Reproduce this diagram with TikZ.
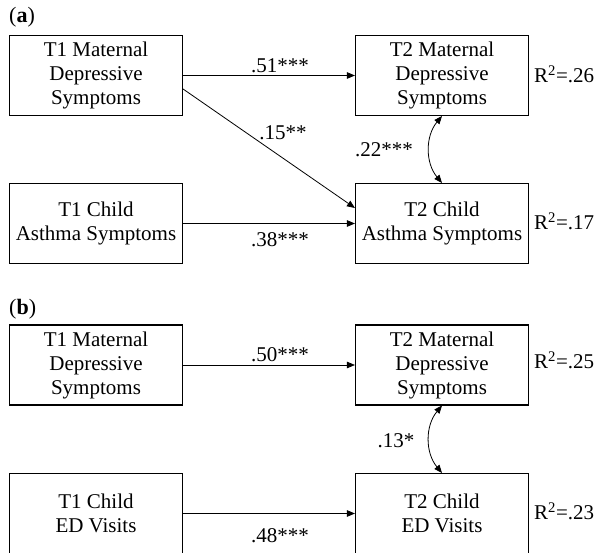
\documentclass[tikz,border=0pt]{standalone}
\usepackage{fontspec}
\setmainfont{Liberation Serif}
\usetikzlibrary{arrows.meta}
\begin{document}
\begin{tikzpicture}[x=1pt,y=-1pt,
  box/.style={draw, line width=1.1pt, minimum width=173pt, minimum height=80pt, align=center, inner sep=0pt, font=\fontsize{21}{24}\selectfont},
  lbl/.style={font=\fontsize{21}{24}\selectfont, anchor=base, inner sep=0pt},
  rsq/.style={font=\fontsize{21}{24}\selectfont, anchor=base west, inner sep=0pt},
  panel/.style={font=\fontsize{22}{24}\selectfont, anchor=base west, inner sep=0pt},
  tip/.tip={Triangle[length=8pt,width=6.5pt]},
  arr/.style={line width=0.8pt, -tip},
  dbl/.style={line width=0.8pt, tip-tip},
]
\useasboundingbox (0,0) rectangle (598,553);
% panel a
\node[panel] (pa) at (9,23) {(\textbf{a})};
\node[box] (a1) at (96,75.5) {T1 Maternal\\Depressive\\Symptoms};
\node[box] (a2) at (96,223.5) {T1 Child\\Asthma Symptoms};
\node[box] (a3) at (442,75.5) {T2 Maternal\\Depressive\\Symptoms};
\node[box] (a4) at (442,223.5) {T2 Child\\Asthma Symptoms};
\draw[arr] (a1.east) -- (a3.west);
\draw[arr] ([yshift=-13.5pt]a1.east) -- ([yshift=15.5pt]a4.west);
\draw[arr] (a2.east) -- (a4.west);
\draw[dbl] (a3.south) to[bend right=40] (a4.north);
\node[lbl] (la1) at (280,73) {.51***};
\node[lbl] (la2) at (283,140) {.15**};
\node[lbl] (la3) at (280,247) {.38***};
\node[lbl] (la4) at (384,157) {.22***};
\node[rsq] (ra1) at (534,83) {R\textsuperscript{2}=.26};
\node[rsq] (ra2) at (534,230) {R\textsuperscript{2}=.17};
% panel b
\node[panel] (pb) at (9,315) {(\textbf{b})};
\node[box] (b1) at (96,365) {T1 Maternal\\Depressive\\Symptoms};
\node[box] (b2) at (96,513.5) {T1 Child\\ED Visits};
\node[box] (b3) at (442,365) {T2 Maternal\\Depressive\\Symptoms};
\node[box] (b4) at (442,513.5) {T2 Child\\ED Visits};
\draw[arr] (b1.east) -- (b3.west);
\draw[arr] (b2.east) -- (b4.west);
\draw[dbl] (b3.south) to[bend right=40] (b4.north);
\node[lbl] (lb1) at (280,362) {.50***};
\node[lbl] (lb2) at (280,543) {.48***};
\node[lbl] (lb3) at (396,448) {.13*};
\node[rsq] (rb1) at (534,369) {R\textsuperscript{2}=.25};
\node[rsq] (rb2) at (534,520) {R\textsuperscript{2}=.23};
\end{tikzpicture}
\end{document}
